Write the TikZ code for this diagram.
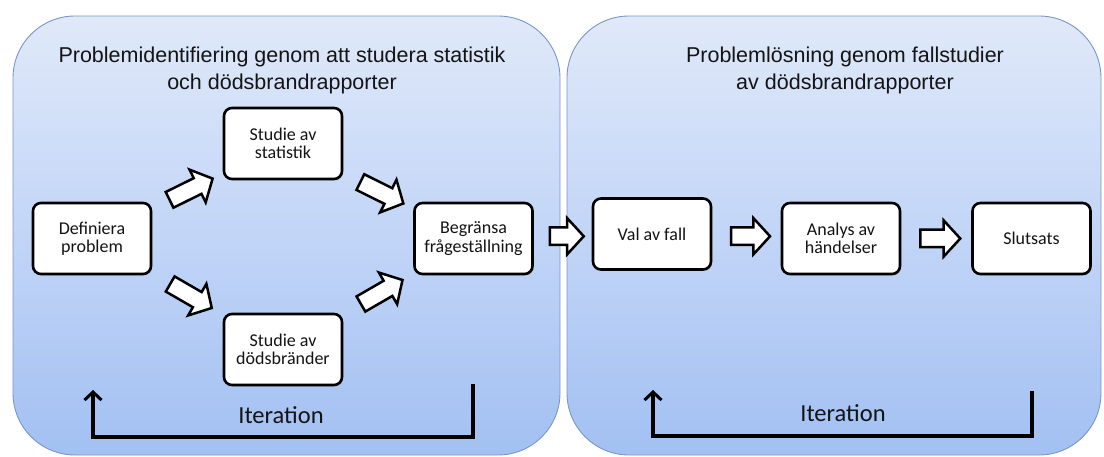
\documentclass[tikz,border=0pt]{standalone}
\usepackage{fontspec}
\setmainfont{Carlito}
\newfontfamily\headfont{Liberation Sans}
\usetikzlibrary{positioning,calc,shapes.arrows,shadows,arrows.meta}

\definecolor{paneltop}{RGB}{224,233,249}
\definecolor{panelmid}{RGB}{194,213,247}
\definecolor{panelbot}{RGB}{162,192,242}
\definecolor{panelline}{RGB}{120,150,200}
\definecolor{inktext}{RGB}{20,20,20}

\tikzset{
  panel/.style={draw=panelline, line width=0.9pt, rounded corners=62pt,
    top color=paneltop, bottom color=panelbot, middle color=panelmid},
  paneltitle/.style={align=center, text=inktext,
    font=\headfont\fontsize{21.5}{27}\selectfont},
  stepbox/.style={draw=black, line width=2.6pt, fill=white, rounded corners=8pt,
    minimum width=118pt, minimum height=71pt, align=center, text=inktext,
    font=\fontsize{18}{18.5}\selectfont,
    drop shadow={shadow xshift=1.2pt, shadow yshift=-1.5pt, opacity=0.3}},
  blockarrow/.style={single arrow, draw=black, line width=2.5pt, fill=white,
    inner xsep=0pt, inner ysep=7.5pt, single arrow head extend=9.5pt,
    single arrow tip angle=95, minimum height=48pt},
  iterline/.style={line width=3.6pt, -{Straight Barb[length=8pt, width=17pt, line width=3pt]}},
  iterlabel/.style={text=inktext, font=\fontsize{24.5}{26}\selectfont}
}

\begin{document}
\begin{tikzpicture}[x=1pt, y=-1pt]
  \useasboundingbox (0,0) rectangle (1104,457);

  % the two phases
  \path[panel] (13,16) rectangle (560,455);
  \path[panel] (567,16) rectangle (1101,455);

  \node[paneltitle] (t1) at (282,70) {Problemidentifiering genom att studera statistik\\och dödsbrandrapporter};
  \node[paneltitle] (t2) at (845,70) {Problemlösning genom fallstudier\\av dödsbrandrapporter};

  % phase 1
  \node[stepbox] (def) at (92,238.5) {Definiera\\problem};
  \node[stepbox] (stat) at (283,143.5) {Studie av\\statistik};
  \node[stepbox] (dod) at (283,349.5) {Studie av\\dödsbränder};
  \node[stepbox] (begr) at (473.5,238.5) {Begränsa\\frågeställning};

  % phase 2
  \node[stepbox] (val) at (652,234) {Val av fall};
  \node[stepbox] (anal) at (841,238.5) {Analys av\\händelser};
  \node[stepbox] (slut) at (1031.5,238.5) {Slutsats};

  % block arrows
  \node[blockarrow, rotate=26.3] (a1) at ($(def)!0.5!(stat)$) {};
  \node[blockarrow, rotate=-26.5] (a2) at ($(stat)!0.5!(begr)$) {};
  \node[blockarrow, rotate=-30] (a3) at ($(def)!0.5!(dod)$) {};
  \node[blockarrow, rotate=30] (a4) at ($(dod)!0.5!(begr)$) {};
  \node[blockarrow, minimum height=34pt] (a5) at ($(begr)!0.5!(val)$) {};
  \node[blockarrow, minimum height=39pt] (a6) at ($(val)!0.5!(anal)$) {};
  \node[blockarrow, minimum height=40pt] (a7) at ($(anal)!0.5!(slut)$) {};

  % iteration loops
  \coordinate (i1a) at (473,384);
  \coordinate (i1c) at (93,437);
  \coordinate (i1b) at (93,390);
  \draw[iterline] (i1a) |- (i1c) -- (i1b);
  \node[iterlabel] (it1) at (281,415) {Iteration};

  \coordinate (i2a) at (1032,391);
  \coordinate (i2c) at (653,436);
  \coordinate (i2b) at (653,390);
  \draw[iterline] (i2a) |- (i2c) -- (i2b);
  \node[iterlabel] (it2) at (843,413) {Iteration};
\end{tikzpicture}
\end{document}
